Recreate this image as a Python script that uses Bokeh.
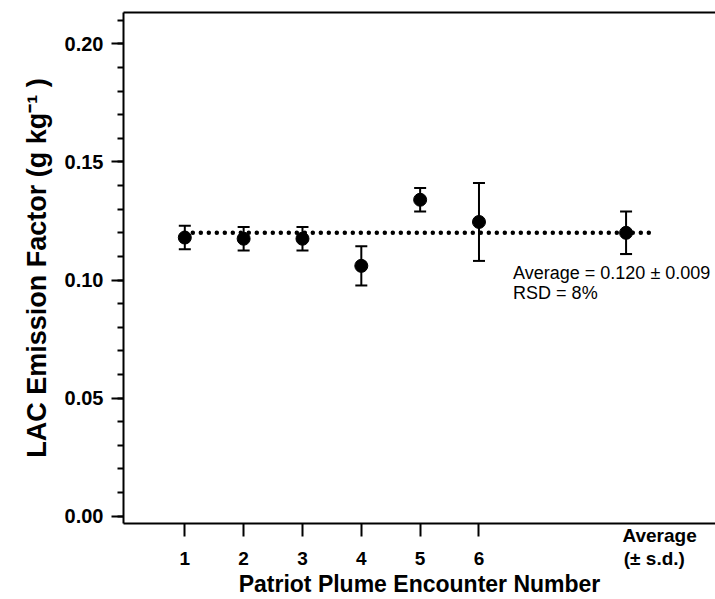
from bokeh.plotting import figure
from bokeh.models import (Range1d, LinearAxis, FixedTicker, SingleIntervalTicker, Whisker,
                          TeeHead, ColumnDataSource, Label, NumeralTickFormatter)
from bokeh.embed import file_html
from bokeh.resources import INLINE

# ---- data ----
encounters = [1, 2, 3, 4, 5, 6]
lac_ef = [0.118, 0.1175, 0.1175, 0.106, 0.134, 0.1246]
lac_sd = [0.005, 0.005, 0.005, 0.0083, 0.005, 0.0165]
avg_pos = [8.5]
avg_value = [0.120]
avg_sd = [0.009]
rsd_pct = 8
avg_line_x = [1, 9]
x_tick_labels = ["1", "2", "3", "4", "5", "6"]
avg_label_pos = 9.07
avg_label = "Average\n(\u00b1 s.d.)\u00a0\u00a0"

FONT = "Liberation Sans"

p = figure(width=715, height=599, output_backend="svg", toolbar_location=None,
           x_range=Range1d(-0.042, 10.02), y_range=Range1d(-0.0031, 0.2133),
           min_border_left=123, min_border_right=0, min_border_top=12, min_border_bottom=76)
p.xgrid.visible = False
p.ygrid.visible = False
p.outline_line_color = None
p.background_fill_color = "white"
p.border_fill_color = "white"

# x axis: invisible major ticks carry the labels, minor ticks draw the marks
xa = p.xaxis[0]
xa.ticker = FixedTicker(ticks=encounters + [avg_label_pos], minor_ticks=encounters)
overrides = {e: "\n" + l for e, l in zip(encounters, x_tick_labels)}
overrides[avg_label_pos] = avg_label
xa.major_label_overrides = overrides
xa.axis_line_width = 2
xa.axis_line_color = "black"
xa.major_tick_line_color = None
xa.major_tick_out = 0
xa.major_tick_in = 0
xa.minor_tick_line_color = "black"
xa.minor_tick_line_width = 2
xa.minor_tick_out = 13
xa.minor_tick_in = 0
xa.major_label_text_font = FONT
xa.major_label_text_font_style = "bold"
xa.major_label_text_font_size = "19px"
xa.major_label_text_color = "black"
xa.major_label_text_line_height = 1.1
xa.major_label_standoff = -12
xa.axis_label = "Patriot Plume Encounter Number"
xa.axis_label_text_font = FONT
xa.axis_label_text_font_style = "bold"
xa.axis_label_text_font_size = "23px"
xa.axis_label_text_color = "black"
xa.axis_label_text_line_height = 0.9
xa.axis_label_standoff = -1

ya = p.yaxis[0]
ya.ticker = SingleIntervalTicker(interval=0.05, num_minor_ticks=5)
ya.formatter = NumeralTickFormatter(format="0.00")
ya.axis_line_width = 2
ya.axis_line_color = "black"
ya.major_tick_line_width = 2
ya.minor_tick_line_width = 2
ya.major_tick_out = 12
ya.major_tick_in = 0
ya.minor_tick_out = 6
ya.minor_tick_in = 0
ya.major_label_text_font = FONT
ya.major_label_text_font_style = "bold"
ya.major_label_text_font_size = "20px"
ya.major_label_text_color = "black"
ya.major_label_standoff = 8
ya.axis_label = "LAC Emission Factor (g kg\u207b\u00b9 )"
ya.axis_label_text_font = FONT
ya.axis_label_text_font_style = "bold"
ya.axis_label_text_font_size = "27px"
ya.axis_label_text_color = "black"
ya.axis_label_standoff = 10

top = LinearAxis(axis_line_width=2, axis_line_color="black",
                 major_tick_line_color=None, minor_tick_line_color=None,
                 major_label_text_font_size="0px", major_label_text_color=None)
p.add_layout(top, "above")

# average dotted line
p.line(x=avg_line_x, y=[avg_value[0]] * 2, line_color="black", line_width=4.5,
       line_dash="0 8", line_cap="round")

# error bars + points
src = ColumnDataSource(dict(x=encounters + avg_pos,
                            y=lac_ef + avg_value,
                            upper=[v + s for v, s in zip(lac_ef + avg_value, lac_sd + avg_sd)],
                            lower=[v - s for v, s in zip(lac_ef + avg_value, lac_sd + avg_sd)]))
p.add_layout(Whisker(base="x", upper="upper", lower="lower", source=src,
                     line_width=2, line_color="black",
                     upper_head=TeeHead(size=12, line_width=2, line_color="black"),
                     lower_head=TeeHead(size=12, line_width=2, line_color="black")))
p.scatter("x", "y", source=src, size=13, color="black")

# annotation
p.add_layout(Label(x=6.58, y=0.1029, text=f"Average = {avg_value[0]:.3f} \u00b1 {avg_sd[0]:.3f}",
                   text_font=FONT, text_font_size="18px", text_color="black",
                   text_baseline="alphabetic"))
p.add_layout(Label(x=6.58, y=0.0944, text=f"RSD = {rsd_pct}%",
                   text_font=FONT, text_font_size="18px", text_color="black",
                   text_baseline="alphabetic"))

open("out.html", "w").write(file_html(p, INLINE))
